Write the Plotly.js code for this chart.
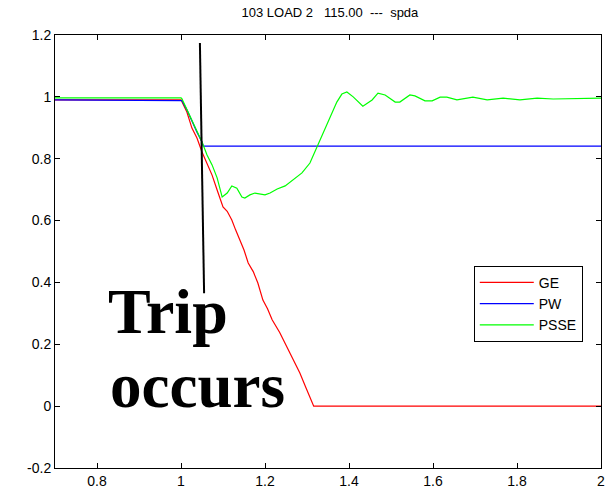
<!DOCTYPE html>
<html>
<head>
<meta charset="utf-8">
<script src="https://cdn.plot.ly/plotly-3.0.1.min.js"></script>
<style>html,body{margin:0;padding:0;background:#fff;}</style>
</head>
<body>
<div id="chart" style="width:611px;height:489px;"></div>
<script>
// ---- data ----
var geX = [0.7, 1.0, 1.002, 1.014, 1.026, 1.038, 1.050, 1.062, 1.074, 1.086, 1.100, 1.110, 1.121, 1.130, 1.140, 1.150, 1.160, 1.172, 1.183, 1.195, 1.206, 1.217, 1.235, 1.252, 1.268, 1.283, 1.298, 1.314, 1.316, 2.0];
var geY = [0.99, 0.99, 0.985, 0.951, 0.899, 0.867, 0.822, 0.786, 0.747, 0.699, 0.644, 0.630, 0.602, 0.570, 0.537, 0.505, 0.463, 0.435, 0.398, 0.343, 0.315, 0.279, 0.238, 0.191, 0.150, 0.107, 0.058, 0.004, 0.0, 0.0];

var pwX = [0.7, 1.0, 1.002, 1.014, 1.026, 1.038, 1.050, 1.053, 2.0];
var pwY = [0.99, 0.99, 0.988, 0.958, 0.919, 0.886, 0.854, 0.841, 0.841];

var psseX = [0.7, 1.0, 1.002, 1.014, 1.026, 1.038, 1.050, 1.062, 1.074, 1.086, 1.098, 1.110, 1.121, 1.133, 1.145, 1.152, 1.164, 1.176, 1.188, 1.200, 1.212, 1.229, 1.248, 1.267, 1.288, 1.307, 1.324, 1.343, 1.360, 1.371, 1.383, 1.395, 1.410, 1.433, 1.455, 1.469, 1.486, 1.510, 1.521, 1.545, 1.557, 1.581, 1.598, 1.617, 1.633, 1.657, 1.695, 1.729, 1.767, 1.807, 1.848, 1.886, 2.0];
var psseY = [0.997, 0.997, 0.994, 0.960, 0.922, 0.889, 0.854, 0.812, 0.780, 0.738, 0.676, 0.689, 0.712, 0.705, 0.676, 0.673, 0.683, 0.689, 0.686, 0.683, 0.689, 0.702, 0.712, 0.731, 0.754, 0.786, 0.838, 0.893, 0.948, 0.983, 1.009, 1.016, 1.000, 0.970, 0.990, 1.012, 1.006, 0.983, 0.983, 1.006, 1.003, 0.987, 0.987, 0.999, 0.999, 0.990, 0.999, 0.990, 0.996, 0.990, 0.996, 0.993, 0.996];

var seriesNames = ["GE", "PW", "PSSE"];
var seriesColors = ["#ff0000", "#0000ff", "#00ff00"];

var xTickVals = [0.8, 1, 1.2, 1.4, 1.6, 1.8, 2];
var xTickText = ["0.8", "1", "1.2", "1.4", "1.6", "1.8", "2"];
var yTickVals = [-0.2, 0, 0.2, 0.4, 0.6, 0.8, 1, 1.2];
var yTickText = ["-0.2", "0", "0.2", "0.4", "0.6", "0.8", "1", "1.2"];

var titleText = "103 LOAD 2\u00A0\u00A0\u00A0115.00\u00A0\u00A0---\u00A0\u00A0spda";
var noteLine1 = "Trip";
var noteLine2 = "occurs";

// ---- chart ----
var traces = [
  {x: geX, y: geY, name: seriesNames[0], mode: "lines", line: {color: seriesColors[0], width: 1.2}},
  {x: pwX, y: pwY, name: seriesNames[1], mode: "lines", line: {color: seriesColors[1], width: 1.2}},
  {x: psseX, y: psseY, name: seriesNames[2], mode: "lines", line: {color: seriesColors[2], width: 1.2}}
];

var axisCommon = {
  showgrid: false, zeroline: false, showline: true, linecolor: "#000", linewidth: 1,
  mirror: "ticks", ticks: "inside", ticklen: 5, tickcolor: "#000",
  tickfont: {family: "Liberation Sans, Arial, sans-serif", size: 14, color: "#000"}
};

var layout = {
  width: 611, height: 489,
  margin: {l: 55, r: 10, t: 35, b: 21},
  paper_bgcolor: "#fff", plot_bgcolor: "#fff",
  title: {text: titleText, x: 0.54, xanchor: "center", y: 0.975, yanchor: "middle",
          font: {family: "Liberation Sans, Arial, sans-serif", size: 13, color: "#000"}},
  xaxis: Object.assign({}, axisCommon, {range: [0.7, 2], tickmode: "array", tickvals: xTickVals, ticktext: xTickText}),
  yaxis: Object.assign({}, axisCommon, {range: [-0.2, 1.2], tickmode: "array", tickvals: yTickVals, ticktext: yTickText}),
  showlegend: true,
  legend: {x: 0.767, y: 0.467, xanchor: "left", yanchor: "top",
           bgcolor: "#fff", bordercolor: "#000", borderwidth: 1,
           itemwidth: 54, entrywidth: 124, entrywidthmode: "pixels",
           font: {family: "Liberation Sans, Arial, sans-serif", size: 14, color: "#000"}},
  shapes: [
    {type: "line", xref: "x", yref: "y", x0: 1.045, y0: 1.174, x1: 1.055, y1: 0.365,
     line: {color: "#000", width: 2}}
  ],
  annotations: [
    {text: noteLine1, xref: "x", yref: "y", x: 0.822, y: 0.305, xanchor: "left", yanchor: "middle",
     showarrow: false, font: {family: "Liberation Serif, Times New Roman, serif", size: 64, color: "#000", weight: "bold"}},
    {text: noteLine2, xref: "x", yref: "y", x: 0.826, y: 0.065, xanchor: "left", yanchor: "middle",
     showarrow: false, font: {family: "Liberation Serif, Times New Roman, serif", size: 63, color: "#000", weight: "bold"}}
  ]
};

Plotly.newPlot("chart", traces, layout, {staticPlot: true, displayModeBar: false});
</script>
</body>
</html>
